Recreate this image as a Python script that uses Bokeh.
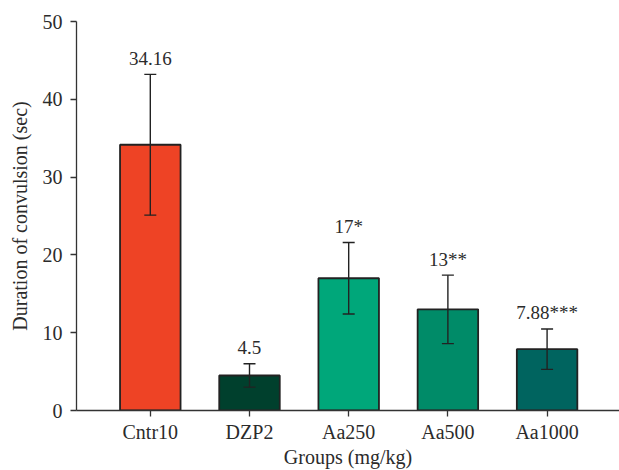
from bokeh.plotting import figure
from bokeh.models import ColumnDataSource, Range1d, FixedTicker, Whisker, TeeHead
from bokeh.embed import file_html
from bokeh.resources import INLINE
from bokeh.core.properties import value

groups = ["Cntr10", "DZP2", "Aa250", "Aa500", "Aa1000"]
means = [34.16, 4.5, 17.0, 13.0, 7.88]
errors = [9.05, 1.5, 4.6, 4.4, 2.6]
labels = ["34.16", "4.5", "17*", "13**", "7.88***"]
colors = ["#EE4325", "#00402D", "#00A77A", "#008B68", "#00645F"]
y_ticks = [0, 10, 20, 30, 40, 50]

FONT = "Liberation Serif"
TXT = "#2b2b2b"

x = list(range(len(groups)))
src = ColumnDataSource(dict(
    x=x, mean=means, color=colors, label=labels,
    upper=[m + e for m, e in zip(means, errors)],
    lower=[m - e for m, e in zip(means, errors)],
))

p = figure(width=619, height=470, output_backend="svg", toolbar_location=None,
           x_range=Range1d(-0.744, 4.73), y_range=Range1d(0, 50),
           min_border_left=76, min_border_right=0, min_border_top=21, min_border_bottom=60)

p.vbar(x="x", top="mean", bottom=0, width=0.61, fill_color="color",
       line_color="#222222", line_width=1.8, source=src)

w = Whisker(base="x", upper="upper", lower="lower", source=src, level="overlay",
            line_color="#222222", line_width=1.4,
            upper_head=TeeHead(size=12, line_color="#222222", line_width=1.4),
            lower_head=TeeHead(size=12, line_color="#222222", line_width=1.4))
p.add_layout(w)

p.text(x="x", y="upper", text="label", source=src, text_align="center",
       text_baseline="alphabetic", y_offset=-16, text_font=value(FONT),
       text_font_size="19px", text_color=TXT)

p.xgrid.visible = False
p.ygrid.visible = False
p.outline_line_color = None

for ax in (p.xaxis[0], p.yaxis[0]):
    ax.axis_line_color = "#333333"
    ax.axis_line_width = 1.3
    ax.major_tick_line_color = "#333333"
    ax.major_tick_line_width = 1.3
    ax.major_tick_in = 0
    ax.major_tick_out = 6
    ax.minor_tick_line_color = None
    ax.major_label_text_font = FONT
    ax.major_label_text_font_size = "20px"
    ax.major_label_text_color = TXT
    ax.axis_label_text_font = FONT
    ax.axis_label_text_font_size = "20px"
    ax.axis_label_text_font_style = "normal"
    ax.axis_label_text_color = TXT

p.xaxis.ticker = FixedTicker(ticks=x)
p.xaxis.major_label_overrides = {i: g for i, g in zip(x, groups)}
p.xaxis.axis_label = "Groups (mg/kg)"
p.xaxis.major_label_standoff = 4
p.xaxis.axis_label_standoff = 0

p.yaxis.ticker = FixedTicker(ticks=y_ticks)
p.yaxis.axis_label = "Duration of convulsion (sec)"
p.yaxis.major_label_standoff = 8
p.yaxis.axis_label_standoff = 9

open("out.html", "w").write(file_html(p, INLINE))
